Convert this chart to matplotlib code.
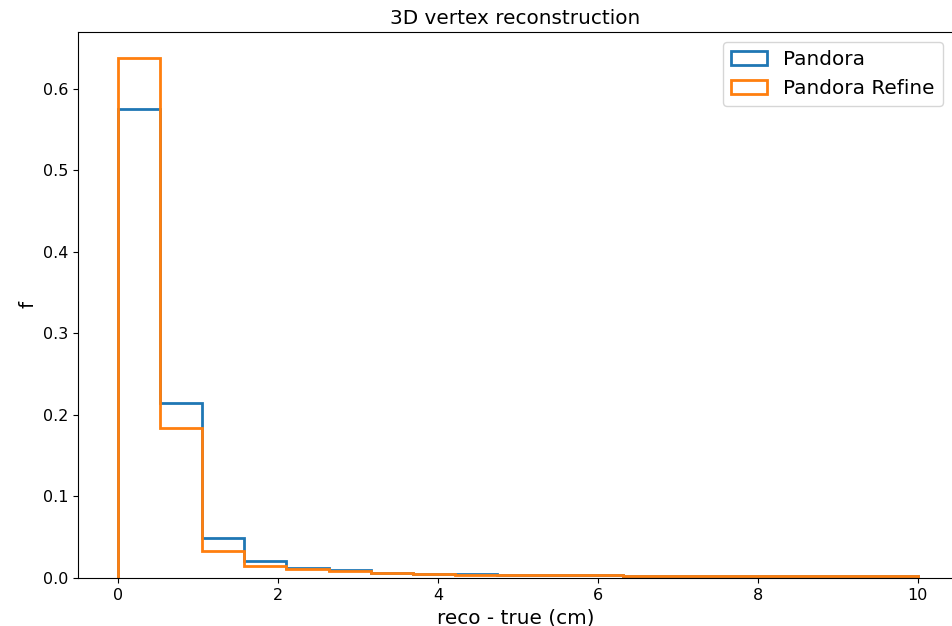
import numpy as np
import matplotlib.pyplot as plt

# bin edges of the residual histogram (cm)
bin_edges = np.linspace(0, 10, 20)
bin_centers = 0.5 * (bin_edges[:-1] + bin_edges[1:])

# fraction of events per bin
pandora = [0.575, 0.215, 0.049, 0.021, 0.012, 0.009, 0.0065, 0.005, 0.0045,
           0.0035, 0.0035, 0.004, 0.0028, 0.0028, 0.0022, 0.0022, 0.0018, 0.002, 0.0018]
pandora_refine = [0.638, 0.184, 0.033, 0.015, 0.011, 0.008, 0.006, 0.005, 0.004,
                  0.003, 0.003, 0.003, 0.0028, 0.0028, 0.0022, 0.0022, 0.0018, 0.002, 0.0018]

fig = plt.figure(figsize=(9.53, 6.26), dpi=100)
ax = fig.add_axes([0.082, 0.077, 0.918, 0.872])

ax.hist(bin_centers, bins=bin_edges, weights=pandora, histtype='step',
        color='tab:blue', linewidth=2, label='Pandora')
ax.hist(bin_centers, bins=bin_edges, weights=pandora_refine, histtype='step',
        color='tab:orange', linewidth=2, label='Pandora Refine')

ax.set_xlim(-0.5, 10.44)
ax.set_ylim(0, 0.67)
ax.set_title('3D vertex reconstruction', fontsize=14.4)
ax.set_xlabel('reco - true (cm)', fontsize=14.4)
ax.set_ylabel('f', fontsize=14.4)
ax.tick_params(labelsize=11.5)
ax.legend(fontsize=14.4, loc='upper right', handlelength=1.8)

fig.savefig('out.png')
